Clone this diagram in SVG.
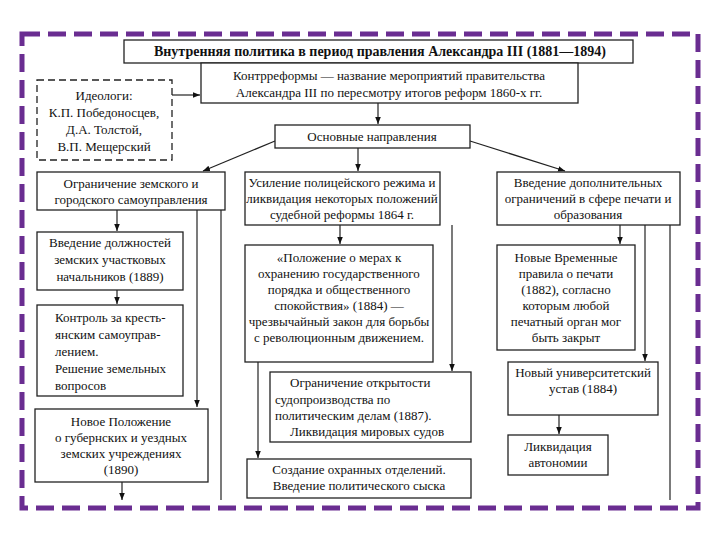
<svg xmlns="http://www.w3.org/2000/svg" width="720" height="540" viewBox="0 0 720 540">
<defs>
<marker id="ah" viewBox="0 0 10 10" refX="10" refY="5" markerWidth="7" markerHeight="7" markerUnits="userSpaceOnUse" orient="auto">
<path d="M0,1 L10,5 L0,9 z" fill="#111"/>
</marker>
<style>
.b{fill:#fff;stroke:#222;stroke-width:1.3}
.d{fill:#fff;stroke:#222;stroke-width:1.3;stroke-dasharray:7 4}
.t{font-family:"Liberation Serif","DejaVu Serif",serif;font-size:13px;fill:#111}
.c{text-anchor:middle}
.tb{font-weight:bold;font-size:14px}
.l{fill:none;stroke:#222;stroke-width:1.2}
</style>
</defs>
<rect width="720" height="540" fill="#fff"/>
<rect x="22" y="34" width="676" height="474" fill="none" stroke="#6a2d91" stroke-width="5" stroke-dasharray="18 8"/>

<g id="connectors">
<line class="l" x1="172" y1="95" x2="200" y2="95" marker-end="url(#ah)"/>
<line class="l" x1="378" y1="103" x2="378" y2="124" marker-end="url(#ah)"/>
<line class="l" x1="275" y1="141" x2="203" y2="171" marker-end="url(#ah)"/>
<line class="l" x1="470" y1="141" x2="565" y2="171" marker-end="url(#ah)"/>
<line class="l" x1="358" y1="148" x2="358" y2="171" marker-end="url(#ah)"/>
<line class="l" x1="117" y1="210" x2="117" y2="231" marker-end="url(#ah)"/>
<line class="l" x1="117" y1="290" x2="117" y2="304" marker-end="url(#ah)"/>
<line class="l" x1="197" y1="210" x2="197" y2="407" marker-end="url(#ah)"/>
<line class="l" x1="221" y1="210" x2="221" y2="500"/>
<line class="l" x1="122" y1="482" x2="122" y2="500" marker-end="url(#ah)"/>
<line class="l" x1="340" y1="225" x2="340" y2="244" marker-end="url(#ah)"/>
<line class="l" x1="452" y1="225" x2="452" y2="371" marker-end="url(#ah)"/>
<line class="l" x1="258" y1="362" x2="258" y2="458" marker-end="url(#ah)"/>
<line class="l" x1="620" y1="225" x2="620" y2="244" marker-end="url(#ah)"/>
<line class="l" x1="645" y1="225" x2="645" y2="361" marker-end="url(#ah)"/>
<line class="l" x1="670" y1="225" x2="670" y2="500"/>
<line class="l" x1="559" y1="415" x2="559" y2="434" marker-end="url(#ah)"/>
</g>

<g id="title">
<rect class="b" x="124" y="40" width="509" height="23"/>
<text class="t c tb" x="380" y="56">Внутренняя политика в период правления Александра III (1881—1894)</text>
</g>
<g id="contrreform">
<rect class="b" x="201" y="63" width="377" height="40"/>
<text class="t c" x="389" y="80">Контрреформы — название мероприятий правительства</text>
<text class="t c" x="389" y="97">Александра III по пересмотру итогов реформ 1860-х гг.</text>
</g>
<g id="ideologi">
<rect class="d" x="37" y="80" width="135" height="80"/>
<text class="t c" x="104" y="100">Идеологи:</text>
<text class="t c" x="104" y="117">К.П. Победоносцев,</text>
<text class="t c" x="104" y="134">Д.А. Толстой,</text>
<text class="t c" x="104" y="151">В.П. Мещерский</text>
</g>
<g id="osnovnye">
<rect class="b" x="275" y="125" width="195" height="23"/>
<text class="t c" x="372" y="141">Основные направления</text>
</g>

<g id="zemstvo">
<rect class="b" x="37" y="172" width="188" height="38"/>
<text class="t c" x="131" y="188">Ограничение земского и</text>
<text class="t c" x="131" y="204">городского самоуправления</text>
</g>
<g id="nachalniki">
<rect class="b" x="37" y="232" width="146" height="58"/>
<text class="t c" x="110" y="247">Введение должностей</text>
<text class="t c" x="110" y="264">земских участковых</text>
<text class="t c" x="110" y="281">начальников (1889)</text>
</g>
<g id="kontrol">
<rect class="b" x="37" y="305" width="146" height="91"/>
<text class="t" x="55" y="322">Контроль за кресть-</text>
<text class="t" x="55" y="339">янским самоуправ-</text>
<text class="t" x="55" y="356">лением.</text>
<text class="t" x="55" y="373">Решение земельных</text>
<text class="t" x="55" y="390">вопросов</text>
</g>
<g id="polozhenie1890">
<rect class="b" x="35" y="409" width="173" height="73"/>
<text class="t c" x="121" y="426">Новое Положение</text>
<text class="t c" x="121" y="442">о губернских и уездных</text>
<text class="t c" x="121" y="458">земских учреждениях</text>
<text class="t c" x="121" y="474">(1890)</text>
</g>

<g id="police">
<rect class="b" x="245" y="172" width="195" height="53"/>
<text class="t c" x="342" y="187">Усиление полицейского режима и</text>
<text class="t c" x="342" y="203">ликвидация некоторых положений</text>
<text class="t c" x="342" y="219">судебной реформы 1864 г.</text>
</g>
<g id="polozhenie1884">
<rect class="b" x="245" y="245" width="188" height="117"/>
<text class="t c" x="339" y="262">«Положение о мерах к</text>
<text class="t c" x="339" y="278">охранению государственного</text>
<text class="t c" x="339" y="294">порядка и общественного</text>
<text class="t c" x="339" y="310">спокойствия» (1884) —</text>
<text class="t c" x="339" y="326">чрезвычайный закон для борьбы</text>
<text class="t c" x="339" y="342">с революционным движением.</text>
</g>
<g id="otkrytost">
<rect class="b" x="270" y="372" width="201" height="70"/>
<text class="t" x="290" y="387">Ограничение открытости</text>
<text class="t" x="275" y="404">судопроизводства по</text>
<text class="t" x="275" y="420">политическим делам (1887).</text>
<text class="t" x="290" y="436">Ликвидация мировых судов</text>
</g>
<g id="okhranka">
<rect class="b" x="247" y="459" width="224" height="39"/>
<text class="t c" x="359" y="474">Создание охранных отделений.</text>
<text class="t c" x="359" y="490">Введение политического сыска</text>
</g>

<g id="pechat">
<rect class="b" x="497" y="172" width="183" height="53"/>
<text class="t c" x="588" y="187">Введение дополнительных</text>
<text class="t c" x="588" y="203">ограничений в сфере печати и</text>
<text class="t c" x="588" y="219">образования</text>
</g>
<g id="pravila">
<rect class="b" x="497" y="245" width="138" height="105"/>
<text class="t c" x="566" y="262">Новые Временные</text>
<text class="t c" x="566" y="278">правила о печати</text>
<text class="t c" x="566" y="294">(1882), согласно</text>
<text class="t c" x="566" y="310">которым любой</text>
<text class="t c" x="566" y="326">печатный орган мог</text>
<text class="t c" x="566" y="342">быть закрыт</text>
</g>
<g id="ustav">
<rect class="b" x="508" y="362" width="150" height="53"/>
<text class="t c" x="583" y="377">Новый университетский</text>
<text class="t c" x="583" y="393">устав (1884)</text>
</g>
<g id="avtonomiya">
<rect class="b" x="508" y="435" width="100" height="40"/>
<text class="t c" x="558" y="451">Ликвидация</text>
<text class="t c" x="558" y="467">автономии</text>
</g>
</svg>
